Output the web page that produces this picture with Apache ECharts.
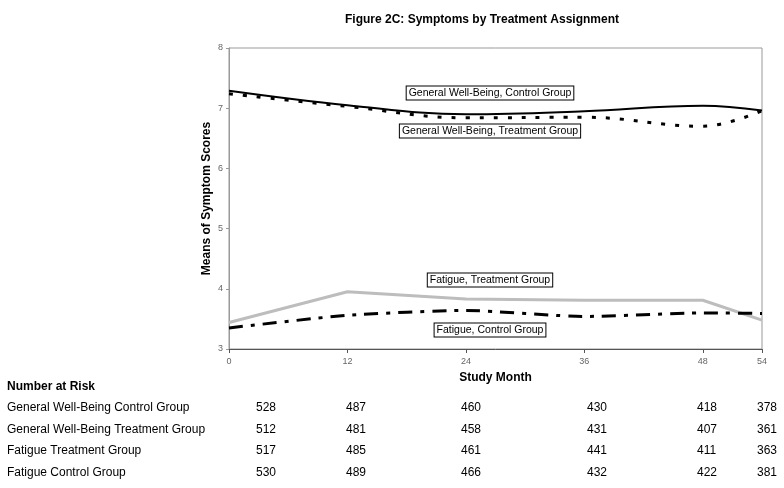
<!DOCTYPE html>
<html><head><meta charset="utf-8">
<script src="https://cdn.jsdelivr.net/npm/echarts@6/dist/echarts.min.js"></script>
<style>html,body{margin:0;padding:0;background:#fff}#c{width:784px;height:488px}</style>
</head><body><div id="c"></div>
<script>
const months = [0, 12, 24, 36, 48, 54];
const xTicks = [0, 12, 24, 36, 48, 54];
const gwbControl = [7.29, 7.05, 6.90, 6.95, 7.04, 6.96];
const gwbTreatment = [7.24, 7.03, 6.84, 6.85, 6.70, 6.96];
const fatTreatment = [3.44, 3.95, 3.83, 3.81, 3.81, 3.48];
const fatControl = [3.35, 3.56, 3.64, 3.54, 3.60, 3.59];
const riskRows = ['General Well-Being Control Group','General Well-Being Treatment Group','Fatigue Treatment Group','Fatigue Control Group'];
const riskValues = [
  [528, 487, 460, 430, 418, 378],
  [512, 481, 458, 431, 407, 361],
  [517, 485, 461, 441, 411, 363],
  [530, 489, 466, 432, 422, 381]
];
const seriesLabels = ['General Well-Being, Control Group','General Well-Being, Treatment Group','Fatigue, Treatment Group','Fatigue, Control Group'];

const FONT = 'Liberation Sans, Arial, sans-serif';
const pair = a => months.map((m, i) => [m, a[i]]);
const chart = echarts.init(document.getElementById('c'));

const riskColX = [256, 346, 461, 587, 697, 757];
const rowY = [409, 431, 452, 474];
const graphics = [];
graphics.push({type:'text', left:7, top:381, style:{text:'Number at Risk', font:'bold 12px ' + FONT, fill:'#000'}});
riskRows.forEach((r, i) => {
  graphics.push({type:'text', left:7, top:rowY[i]-7, style:{text:r, font:'12px ' + FONT, fill:'#000'}});
  riskValues[i].forEach((v, j) => {
    graphics.push({type:'text', left:riskColX[j], top:rowY[i]-7, style:{text:String(v), font:'12px ' + FONT, fill:'#000'}});
  });
});
const boxes = [[490, 93], [490, 131], [490, 280], [490, 330]];
seriesLabels.forEach((t, i) => {
  graphics.push({type:'text', x:boxes[i][0], y:boxes[i][1], style:{text:t, font:'10.5px ' + FONT, fill:'#000', align:'center', verticalAlign:'middle', backgroundColor:'#fff', borderColor:'#000', borderWidth:1, padding:[1,2,1,2]}, z:100});
});

chart.setOption({
  animation: false,
  backgroundColor: '#fff',
  title: {text:'Figure 2C: Symptoms by Treatment Assignment', left:477, top:9, textAlign:'center',
    textStyle:{fontFamily:FONT, fontSize:12, fontWeight:'bold', color:'#000'}},
  grid: {left:229, right:22, top:48, bottom:139, show:true, borderColor:'#999', borderWidth:1, backgroundColor:'transparent'},
  xAxis: {type:'value', min:0, max:54, interval:6,
    name:'Study Month', nameLocation:'middle', nameGap:23,
    nameTextStyle:{fontFamily:FONT, fontSize:12, fontWeight:'bold', color:'#000'},
    axisLine:{lineStyle:{color:'#555', width:1}},
    axisTick:{show:true, length:4, lineStyle:{color:'#555'}, customValues:xTicks},
    axisLabel:{fontFamily:FONT, fontSize:9, color:'#666', margin:8, customValues:xTicks},
    splitLine:{show:false}},
  yAxis: {type:'value', min:3, max:8, interval:1,
    name:'Means of Symptom Scores', nameLocation:'middle', nameGap:16, nameMoveOverlap:false,
    nameTextStyle:{fontFamily:FONT, fontSize:12, fontWeight:'bold', color:'#000'},
    axisLine:{show:true, lineStyle:{color:'#999', width:1}},
    axisTick:{show:true, length:3, lineStyle:{color:'#999'}},
    axisLabel:{fontFamily:FONT, fontSize:9, color:'#666', margin:6},
    splitLine:{show:false}},
  series: [
    {type:'line', data:pair(gwbControl), smooth:0.4, showSymbol:false, lineStyle:{color:'#000', width:2}},
    {type:'line', data:pair(gwbTreatment), smooth:0.4, showSymbol:false, lineStyle:{color:'#000', width:3, type:[4,10]}},
    {type:'line', data:pair(fatTreatment), showSymbol:false, lineStyle:{color:'#bdbdbd', width:3}},
    {type:'line', data:pair(fatControl), smooth:0.2, showSymbol:false, lineStyle:{color:'#000', width:3, type:[14,8,4,8]}}
  ],
  graphic: graphics
});
</script></body></html>
